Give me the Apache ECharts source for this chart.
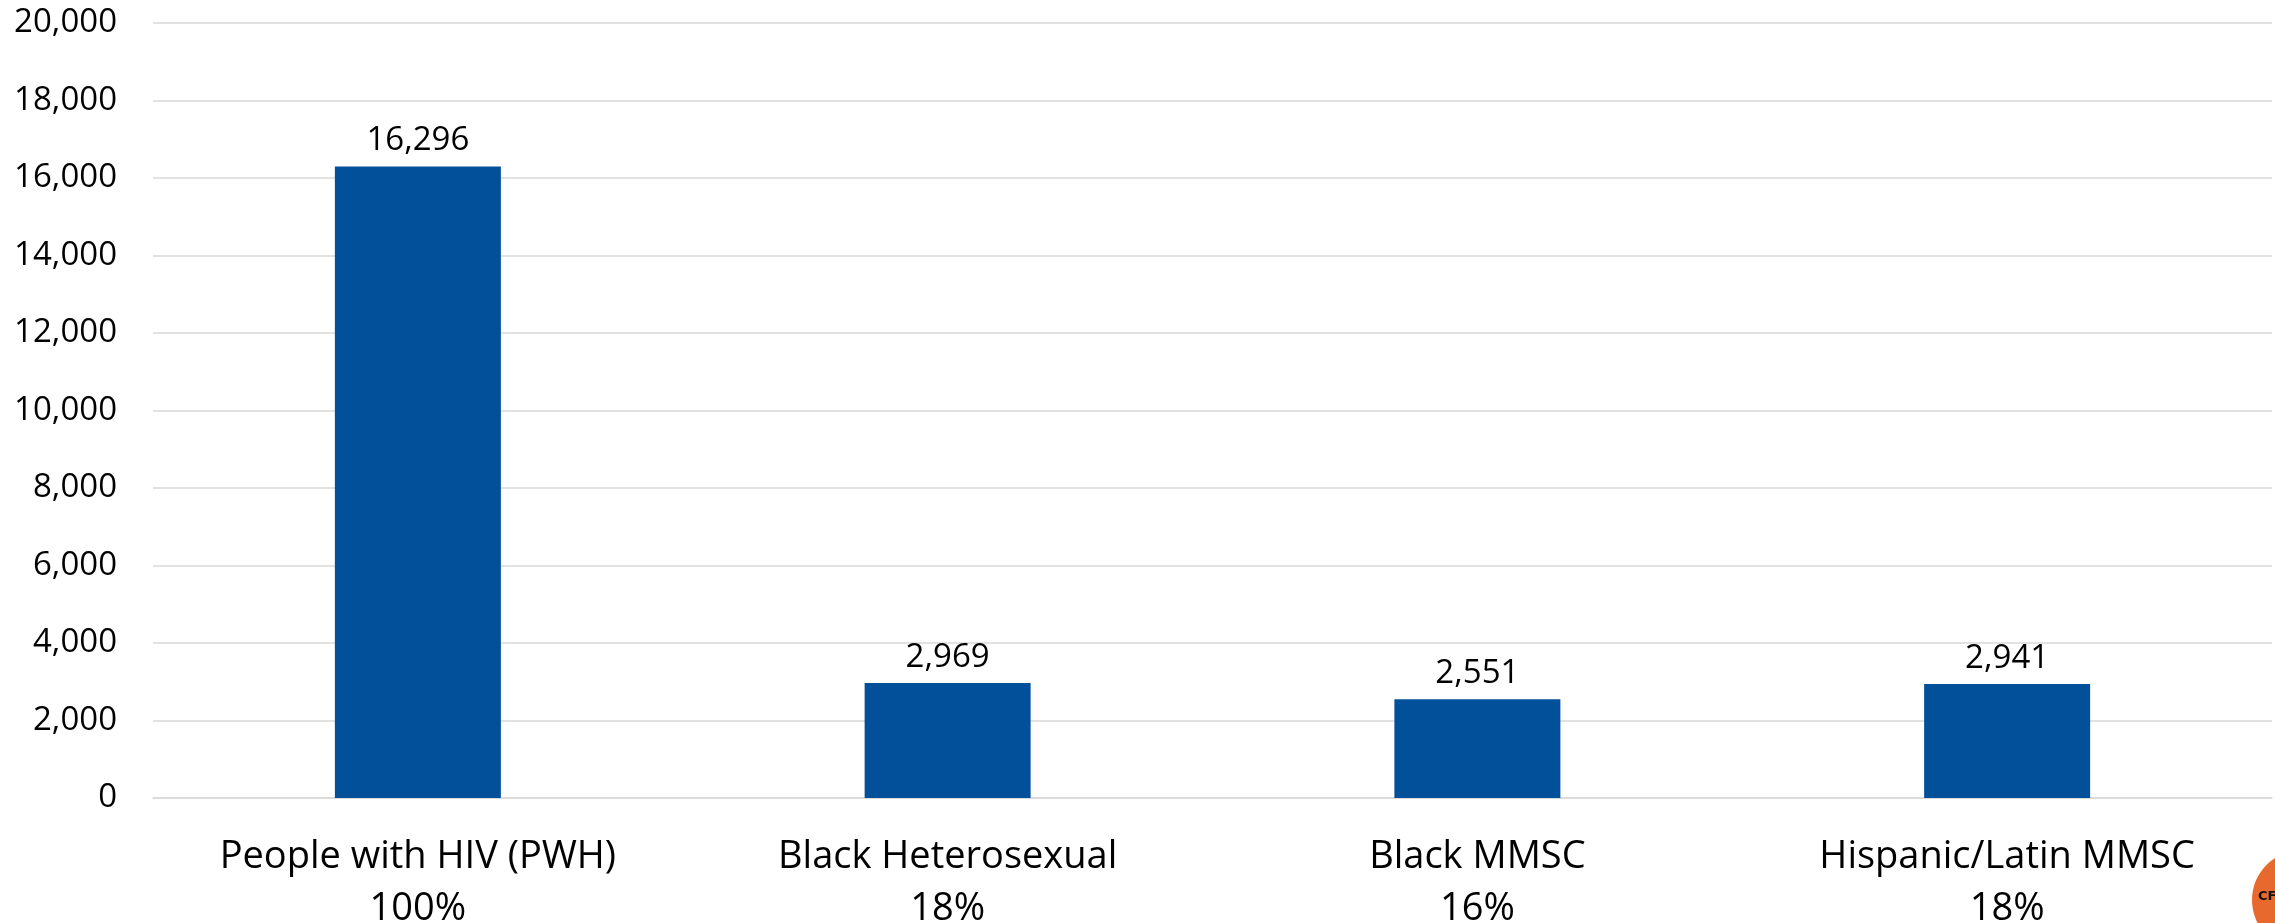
<!DOCTYPE html>
<html>
<head>
<meta charset="utf-8">
<script src="https://cdn.jsdelivr.net/npm/echarts@6/dist/echarts.min.js"></script>
<style>
	html, body { margin: 0; padding: 0; background: #fff; }
	#chart { width: 2275px; height: 923px; }
</style>
</head>
<body>
<div id="chart"></div>
<script>
// categories and their shares of PWH
let categories = ['People with HIV (PWH)', 'Black Heterosexual', 'Black MMSC', 'Hispanic/Latin MMSC'];
let shares = ['100%', '18%', '16%', '18%'];
let people = [16296, 2969, 2551, 2941];

let fnt = '"Open Sans", "Noto Sans", sans-serif';
let chart = echarts.init(document.getElementById('chart'));

let option = {
	animation: false,
	grid: {
		left: 153,
		right: 3,
		top: 23,
		bottom: 125,
		containLabel: false,
		outerBoundsMode: 'none',
	},
	xAxis: {
		type: 'category',
		data: categories,
		axisTick: { show: false },
		axisLine: { lineStyle: { color: '#d9d9d9', width: 1.5 } },
		axisLabel: {
			margin: 33,
			color: '#000',
			fontFamily: fnt,
			fontSize: 38,
			lineHeight: 52,
			interval: 0,
			// 类别名 + 百分比 两行显示
			formatter: (value, idx) => `${value}\n${shares[idx]}`,
		},
	},
	yAxis: {
		type: 'value',
		min: 0,
		max: 20000,
		interval: 2000,
		axisLine: { show: false },
		axisTick: { show: false },
		splitLine: { lineStyle: { color: '#d9d9d9', width: 1.5 } },
		axisLabel: {
			margin: 36,
			color: '#000',
			fontFamily: fnt,
			fontSize: 33,
			formatter: (v) => v.toLocaleString('en-US'),
		},
	},
	series: [
		{
			type: 'bar',
			data: people,
			barWidth: 166,
			itemStyle: { color: '#02509A' },
			label: {
				show: true,
				position: 'top',
				distance: 9,
				color: '#000',
				fontFamily: fnt,
				fontSize: 33,
				formatter: (p) => p.value.toLocaleString('en-US'),
			},
		},
	],
	graphic: [
		// 右下角被裁掉的橙色logo
		{
			type: 'circle',
			shape: { cx: 2302, cy: 900, r: 50 },
			style: { fill: '#E8692E' },
		},
		{
			type: 'text',
			left: 2258,
			top: 890,
			style: { text: 'CF', fill: '#111', font: 'bold 13px "DejaVu Sans", sans-serif' },
		},
	],
};
chart.setOption(option);
</script>
</body>
</html>
